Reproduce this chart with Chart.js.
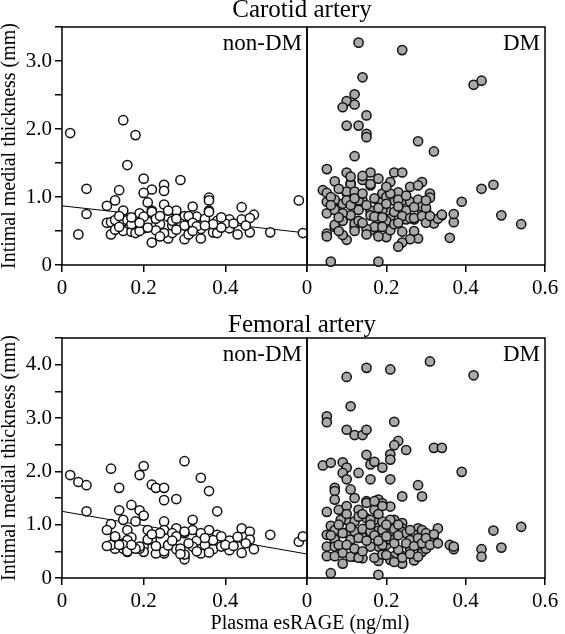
<!DOCTYPE html>
<html>
<head>
<meta charset="utf-8">
<script src="https://cdn.jsdelivr.net/npm/chart.js@4.4.1/dist/chart.umd.min.js"></script>
<style>
  body { margin: 0; background: #fff; }
  #wrap { position: relative; width: 565px; height: 634px; overflow: hidden; font-family: "Liberation Serif", "Times New Roman", serif; color: #000; }
  canvas { position: absolute; }
  .txt { position: absolute; white-space: nowrap; line-height: 1; text-align: center; }
</style>
</head>
<body>
<div id="wrap">
  <canvas id="carotidNonDM" width="330" height="300" style="left:0;top:0"></canvas>
  <canvas id="carotidDM" width="300" height="300" style="left:280px;top:0"></canvas>
  <canvas id="femoralNonDM" width="330" height="334" style="left:0;top:300px"></canvas>
  <canvas id="femoralDM" width="300" height="334" style="left:280px;top:300px"></canvas>
  <div class="txt" style="left:100px;width:404px;top:-4px;font-size:25px">Carotid artery</div>
  <div class="txt" style="left:100px;width:404px;top:311px;font-size:25px">Femoral artery</div>
  <div class="txt" style="left:110px;width:400px;top:612px;font-size:20px">Plasma esRAGE (ng/ml)</div>
</div>
<script>
// Datos: [esRAGE (ng/ml), IMT (mm)]
var carotidNonDM = [
  [0.02,1.94],[0.04,0.45],[0.06,1.12],[0.06,0.75],[0.15,2.13],[0.18,1.91],[0.16,1.47],[0.20,1.27],
  [0.29,1.25],[0.25,1.18],[0.25,1.09],[0.22,1.11],[0.20,1.06],[0.14,1.10],[0.13,0.95],[0.11,0.87],
  [0.21,0.92],[0.25,0.89],[0.36,0.99],[0.36,0.95],[0.44,0.85],[0.47,0.74],[0.15,0.80],[0.15,0.64],
  [0.11,0.62],[0.12,0.63],[0.12,0.45],[0.15,0.50],[0.18,0.61],[0.19,0.76],[0.22,0.80],[0.20,0.54],
  [0.21,0.64],[0.22,0.33],[0.24,0.60],[0.26,0.39],[0.27,0.47],[0.28,0.80],[0.29,0.66],[0.30,0.72],
  [0.30,0.38],[0.31,0.54],[0.32,0.86],[0.33,0.71],[0.34,0.53],[0.34,0.39],[0.35,0.68],[0.36,0.80],
  [0.37,0.48],[0.38,0.65],[0.41,0.67],[0.41,0.54],[0.43,0.45],[0.44,0.67],[0.46,0.48],[0.51,0.48],
  [0.58,0.95],[0.59,0.47],[0.16,0.66],[0.13,0.66],[0.13,0.52],[0.17,0.49],[0.18,0.47],[0.20,0.71],
  [0.23,0.51],[0.25,0.47],[0.26,0.71],[0.29,0.61],[0.22,0.78],[0.36,0.78],[0.46,0.69],[0.31,0.72],
  [0.30,0.58],[0.38,0.47],[0.40,0.61],[0.42,0.61],[0.27,0.58],[0.32,0.62],[0.28,0.52],[0.23,0.68],
  [0.14,0.56],[0.17,0.60],[0.39,0.55],[0.45,0.58],[0.24,0.42],[0.31,0.45],[0.19,0.50],[0.26,0.80],
  [0.33,0.57],[0.37,0.60],[0.14,0.72],[0.17,0.70],[0.19,0.62],[0.24,0.72],[0.27,0.65],[0.32,0.50],
  [0.35,0.58],[0.39,0.70],[0.28,0.68],[0.21,0.55]
];
var carotidDM = [
  [0.13,3.27],[0.24,3.16],[0.14,2.76],[0.42,2.65],[0.44,2.71],[0.12,2.51],[0.10,2.41],[0.12,2.36],
  [0.09,2.32],[0.15,2.20],[0.10,2.05],[0.13,2.05],[0.15,1.93],[0.15,1.88],[0.28,1.82],[0.32,1.67],
  [0.12,1.60],[0.05,1.41],[0.10,1.36],[0.16,1.36],[0.22,1.36],[0.24,1.36],[0.47,1.18],[0.44,1.12],
  [0.29,1.22],[0.39,0.93],[0.49,0.73],[0.54,0.60],[0.36,0.40],[0.37,0.63],[0.37,0.75],[0.34,0.73],
  [0.32,0.61],[0.33,0.68],[0.31,1.05],[0.31,0.99],[0.29,0.80],[0.28,0.39],[0.26,0.38],[0.24,0.33],
  [0.23,0.27],[0.24,0.49],[0.20,0.41],[0.10,0.37],[0.05,0.46],[0.05,0.42],[0.06,0.05],[0.18,0.05],
  [0.04,1.10],[0.07,1.23],[0.11,1.20],[0.05,0.93],[0.05,0.76],[0.07,0.56],[0.09,0.66],[0.12,0.56],
  [0.16,0.51],[0.18,0.56],[0.21,0.51],[0.21,0.71],[0.25,0.67],[0.27,0.67],[0.20,0.80],[0.18,0.95],
  [0.19,1.05],[0.16,1.17],[0.14,1.25],[0.21,1.22],[0.10,1.06],[0.14,0.95],[0.11,0.73],[0.07,0.83],
  [0.09,0.90],[0.16,0.80],[0.22,0.95],[0.24,0.95],[0.25,0.80],[0.28,0.95],[0.30,0.80],[0.14,1.31],
  [0.11,1.19],[0.16,1.19],[0.05,1.06],[0.10,1.08],[0.12,1.08],[0.23,1.07],[0.26,1.15],[0.28,1.17],
  [0.07,0.96],[0.10,0.95],[0.13,0.95],[0.20,1.00],[0.23,0.96],[0.26,0.93],[0.07,0.81],[0.09,0.76],
  [0.13,0.81],[0.16,0.73],[0.19,0.81],[0.22,0.78],[0.24,0.72],[0.26,0.69],[0.07,0.59],[0.09,0.65],
  [0.12,0.61],[0.13,0.65],[0.17,0.71],[0.17,0.56],[0.20,0.65],[0.22,0.60],[0.09,0.44],[0.15,0.53],
  [0.18,0.42],[0.28,0.96],[0.29,0.86],[0.30,0.84],[0.27,0.69],[0.34,0.74],
  [0.06,1.00],[0.08,1.12],[0.06,0.88],[0.08,0.70],[0.11,0.88],[0.12,0.98],[0.14,1.05],[0.15,0.88],
  [0.17,0.98],[0.18,0.84],[0.19,0.70],[0.20,0.90],[0.21,1.05],[0.23,0.86],[0.25,1.02],[0.27,0.85],
  [0.29,0.72],[0.30,0.95],[0.14,0.62],[0.12,0.50],[0.15,0.45],[0.19,0.56],[0.23,0.62],[0.27,0.50],
  [0.30,0.62],[0.31,0.72],[0.11,1.30],[0.18,1.27],[0.20,1.15],[0.08,0.50]
];
var femoralNonDM = [
  [0.02,1.93],[0.04,1.80],[0.06,1.74],[0.06,1.25],[0.12,2.05],[0.14,1.69],[0.19,1.93],[0.20,2.10],
  [0.22,1.75],[0.23,1.69],[0.25,1.69],[0.25,1.46],[0.28,1.48],[0.30,2.19],[0.34,1.88],[0.36,1.63],
  [0.38,1.25],[0.17,1.37],[0.14,1.27],[0.19,1.27],[0.20,1.17],[0.18,1.06],[0.15,1.09],[0.12,1.01],
  [0.11,0.90],[0.16,0.90],[0.21,0.90],[0.25,1.06],[0.25,0.90],[0.28,0.93],[0.32,1.09],[0.32,0.90],
  [0.36,0.90],[0.38,0.81],[0.44,0.93],[0.46,0.87],[0.51,0.81],[0.41,0.70],[0.43,0.77],[0.46,0.72],
  [0.47,0.54],[0.44,0.47],[0.41,0.52],[0.37,0.54],[0.34,0.46],[0.33,0.70],[0.30,0.84],[0.30,0.41],
  [0.30,0.35],[0.28,0.54],[0.26,0.62],[0.25,0.46],[0.23,0.46],[0.22,0.72],[0.20,0.59],[0.20,0.49],
  [0.19,0.55],[0.16,0.49],[0.15,0.55],[0.15,0.65],[0.13,0.55],[0.12,0.62],[0.11,0.60],[0.13,0.77],
  [0.17,0.76],[0.24,0.84],[0.27,0.84],[0.34,0.84],[0.39,0.59],[0.32,0.59],[0.37,0.71],[0.58,0.68],
  [0.59,0.78],[0.24,0.84],[0.28,0.78],[0.30,0.87],[0.13,0.78],[0.16,0.71],[0.15,0.62],[0.19,0.59],
  [0.21,0.72],[0.25,0.50],[0.30,0.44],[0.16,0.50],[0.18,0.55],[0.26,0.61],[0.29,0.55],[0.23,0.60],
  [0.35,0.62],[0.40,0.62],[0.14,0.62],[0.17,0.62],[0.22,0.82],[0.27,0.70],[0.31,0.65],[0.35,0.75],
  [0.39,0.78],[0.42,0.60],[0.45,0.65],[0.29,0.45],[0.33,0.50],[0.36,0.48]
];
var femoralDM = [
  [0.31,4.06],[0.15,3.94],[0.21,3.91],[0.10,3.77],[0.42,3.80],[0.11,3.22],[0.05,3.03],[0.05,2.92],
  [0.22,2.93],[0.10,2.78],[0.12,2.68],[0.14,2.68],[0.15,2.78],[0.23,2.57],[0.22,2.49],[0.21,2.32],
  [0.21,2.22],[0.25,2.40],[0.32,2.44],[0.34,2.44],[0.15,2.31],[0.16,2.13],[0.17,2.18],[0.19,2.07],
  [0.04,2.11],[0.06,2.16],[0.09,2.17],[0.10,2.07],[0.09,1.97],[0.13,1.97],[0.10,1.85],[0.16,1.85],
  [0.21,1.85],[0.39,1.99],[0.07,1.69],[0.07,1.63],[0.11,1.66],[0.28,1.74],[0.29,1.53],[0.24,1.53],
  [0.05,1.24],[0.12,1.50],[0.15,1.44],[0.18,1.47],[0.19,1.40],[0.21,1.34],[0.17,1.28],[0.13,1.28],
  [0.08,1.28],[0.10,1.09],[0.15,1.12],[0.17,1.09],[0.22,1.09],[0.06,0.98],[0.10,0.85],[0.15,0.91],
  [0.18,0.89],[0.24,1.03],[0.24,0.93],[0.28,0.93],[0.33,0.93],[0.47,0.89],[0.54,0.96],[0.05,0.81],
  [0.07,0.71],[0.11,0.72],[0.14,0.76],[0.21,0.81],[0.27,0.81],[0.32,0.72],[0.31,0.72],[0.36,0.62],
  [0.37,0.54],[0.37,0.59],[0.44,0.54],[0.44,0.40],[0.49,0.57],[0.05,0.59],[0.05,0.41],[0.07,0.41],
  [0.09,0.27],[0.12,0.40],[0.14,0.37],[0.18,0.32],[0.18,0.59],[0.20,0.62],[0.22,0.41],[0.24,0.27],
  [0.24,0.41],[0.26,0.54],[0.27,0.33],[0.29,0.49],[0.06,0.09],[0.18,0.06],[0.07,1.47],[0.10,1.35],
  [0.15,1.41],[0.17,1.44],[0.19,1.35],[0.085,1.09],[0.12,1.06],[0.16,1.09],[0.19,1.06],[0.21,1.09],
  [0.07,0.90],[0.09,0.84],[0.12,0.87],[0.14,0.92],[0.16,0.87],[0.19,0.90],[0.22,0.92],[0.24,0.87],
  [0.07,0.72],[0.13,0.75],[0.16,0.59],[0.19,0.62],[0.21,0.72],[0.23,0.53],[0.07,0.59],[0.09,0.47],
  [0.11,0.40],[0.13,0.38],[0.17,0.38],[0.19,0.44],[0.21,0.34],[0.24,0.38],[0.29,0.90],[0.30,0.84],
  [0.25,0.84],[0.26,0.71],[0.28,0.62],[0.30,0.55],[0.20,0.43],
  [0.06,0.80],[0.08,0.62],[0.08,1.00],[0.10,0.62],[0.11,0.95],[0.12,0.55],[0.13,1.15],[0.14,0.50],
  [0.15,0.70],[0.16,1.00],[0.17,0.80],[0.18,0.70],[0.18,1.20],[0.20,0.78],[0.20,1.00],[0.22,0.65],
  [0.23,0.80],[0.23,1.00],[0.25,0.65],[0.26,0.90],[0.27,0.60],[0.28,0.75],[0.29,0.65],[0.30,0.75],
  [0.31,0.62],[0.32,0.82],[0.33,0.65],[0.26,0.45],[0.28,0.40],[0.22,0.30],[0.14,1.20],[0.10,1.20]
];

// Rectas de regresión (solo no-DM)
var carotidFit = [[0, 0.87], [0.6, 0.47]];
var femoralFit = [[0, 1.25], [0.6, 0.45]];

var xMax = 0.6;
var carotidYMax = 3.5;
var femoralYMax = 4.5;
var yTitle = 'Intimal medial thickness (mm)';

var fontName = '"Liberation Serif", "Times New Roman", serif';

// marco + etiqueta de la esquina
var frame = {
  id: 'frame',
  beforeDatasetsDraw: function (chart) {
    var a = chart.chartArea, c = chart.ctx;
    c.save();
    c.strokeStyle = '#000';
    c.lineWidth = 1.5;
    c.strokeRect(a.left, a.top, a.right - a.left, a.bottom - a.top);
    c.restore();
  },
  afterDraw: function (chart, args, opts) {
    var a = chart.chartArea, c = chart.ctx;
    c.save();
    c.font = '23px ' + fontName;
    c.fillStyle = '#000';
    c.textAlign = 'right';
    c.textBaseline = 'alphabetic';
    c.fillText(opts.label, a.right - 5, a.top + 23);
    c.restore();
  }
};

function toXY(list) {
  return list.map(function (p) { return { x: p[0], y: p[1] }; });
}

function numLabel(v) {
  return v === 0 ? '0' : v.toFixed(1);
}

function makeChart(id, points, fit, yMax, label, isNonDM, xHeight, topPad) {
  var datasets = [{
    data: toXY(points),
    pointRadius: 4.6,
    pointBorderWidth: 1.5,
    pointBackgroundColor: isNonDM ? '#ffffff' : '#a9a9a9',
    pointBorderColor: '#111',
    clip: false
  }];
  if (fit) {
    datasets.push({
      type: 'line',
      data: toXY(fit),
      borderColor: '#000',
      borderWidth: 1,
      pointRadius: 0,
      fill: false
    });
  }
  var gridOpts = { drawOnChartArea: false, color: '#000', lineWidth: 1.5, tickLength: 7 };
  return new Chart(document.getElementById(id).getContext('2d'), {
    type: 'scatter',
    data: { datasets: datasets },
    options: {
      responsive: false,
      animation: false,
      devicePixelRatio: 1,
      events: [],
      layout: { padding: { top: topPad, right: isNonDM ? 23 : 35, left: isNonDM ? 0 : 27, bottom: 0 } },
      plugins: {
        legend: { display: false },
        tooltip: { enabled: false },
        frame: { label: label }
      },
      scales: {
        x: {
          type: 'linear',
          min: 0,
          max: xMax,
          afterFit: function (s) { s.height = xHeight; },
          grid: gridOpts,
          border: { display: false },
          ticks: {
            stepSize: 0.2,
            autoSkip: false,
            maxRotation: 0,
            color: '#000',
            padding: 4,
            font: { family: fontName, size: 21 },
            callback: function (v) {
              if (isNonDM && Math.abs(v - xMax) < 1e-6) return '';
              return numLabel(v);
            }
          }
        },
        y: {
          display: isNonDM,
          min: 0,
          max: yMax,
          afterFit: function (s) { s.width = isNonDM ? 62 : 0; },
          grid: gridOpts,
          border: { display: false },
          title: {
            display: true,
            text: yTitle,
            color: '#000',
            padding: 0,
            font: { family: fontName, size: 20, lineHeight: 1 }
          },
          ticks: {
            stepSize: 0.5,
            autoSkip: false,
            color: '#000',
            padding: 3,
            font: { family: fontName, size: 21 },
            callback: function (v) {
              return Math.abs(v - Math.round(v)) < 1e-6 ? numLabel(v) : '';
            }
          }
        }
      }
    },
    plugins: [frame]
  });
}

// Carótida
makeChart('carotidNonDM', carotidNonDM, carotidFit, carotidYMax, 'non-DM', true, 35, 27);
makeChart('carotidDM', carotidDM, null, carotidYMax, 'DM', false, 35, 27);

// Femoral
makeChart('femoralNonDM', femoralNonDM, femoralFit, femoralYMax, 'non-DM', true, 56, 38);
makeChart('femoralDM', femoralDM, null, femoralYMax, 'DM', false, 56, 38);
</script>
</body>
</html>
